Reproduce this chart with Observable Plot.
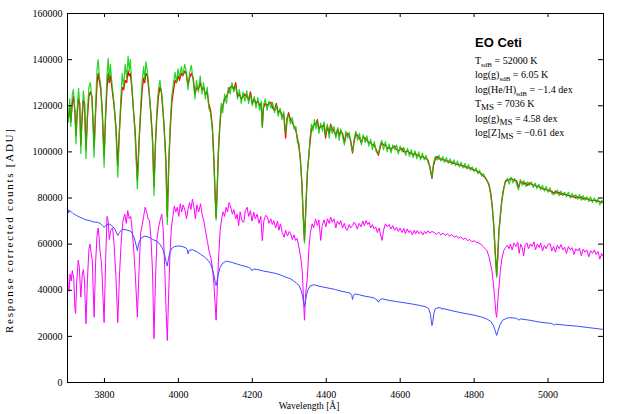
<!DOCTYPE html>
<html><head><meta charset="utf-8">
<script src="https://cdn.jsdelivr.net/npm/d3@7"></script>
<script src="https://cdn.jsdelivr.net/npm/@observablehq/plot@0.6"></script>
<style>html,body{margin:0;padding:0;background:#fff;} svg{display:block}</style>
</head><body><div id="chart"></div>
<script>
// Observed spectrum (red) and composite model fit (green), shared wavelength grid [Å]
const topWave = [3700,3703,3706,3709,3713,3716,3720,3723,3726,3730,3733,3736,3739,3743,3746,3750,3754,3758,3762,3766,3769,3772,3776,3780,3783,3786,3790,3794,3799,3803,3807,3810,3813,3816,3820,3826,3831,3836,3840,3844,3848,3852,3856,3860,3864,3867,3870,3874,3878,3883,3889,3894,3898,3902,3906,3909,3912,3916,3920,3925,3930,3934,3938,3942,3946,3950,3954,3957,3961,3966,3970,3974,3978,3982,3987,3991,3995,3999,4003,4008,4012,4017,4021,4026,4030,4035,4040,4045,4049,4054,4059,4064,4068,4073,4078,4082,4087,4092,4096,4099,4102,4105,4108,4112,4116,4120,4125,4130,4135,4140,4145,4150,4155,4160,4165,4170,4175,4180,4185,4190,4195,4200,4205,4210,4215,4220,4224,4227,4230,4235,4240,4245,4250,4255,4260,4265,4270,4275,4280,4285,4290,4294,4298,4303,4308,4313,4318,4322,4326,4330,4334,4337,4341,4345,4349,4353,4356,4360,4364,4368,4372,4376,4380,4385,4390,4394,4398,4403,4408,4412,4416,4421,4426,4431,4435,4439,4444,4449,4453,4458,4462,4466,4471,4475,4480,4485,4490,4495,4500,4505,4510,4515,4520,4525,4530,4535,4541,4546,4550,4555,4560,4565,4570,4575,4580,4585,4590,4595,4600,4605,4610,4615,4620,4625,4630,4635,4640,4645,4650,4655,4660,4665,4670,4675,4680,4686,4690,4695,4700,4705,4710,4715,4720,4725,4730,4735,4740,4745,4750,4755,4760,4765,4770,4775,4780,4785,4790,4795,4800,4805,4810,4815,4820,4825,4830,4835,4840,4845,4849,4853,4857,4861,4864,4867,4871,4875,4880,4885,4890,4895,4900,4905,4910,4915,4920,4925,4930,4935,4940,4945,4950,4955,4960,4965,4970,4975,4980,4985,4990,4995,5000,5005,5010,5015,5020,5025,5030,5035,5040,5045,5050,5055,5060,5065,5070,5075,5080,5085,5090,5095,5100,5105,5110,5115,5120,5125,5130,5135,5140,5145,5150];
const fitFlux = [119000,113000,123000,111000,125000,127000,117000,103500,118000,127500,120000,99300,115000,126500,121000,97100,118000,128000,130000,123000,112000,97700,120000,136000,140000,133000,129000,117000,93400,117000,134000,140500,131000,138000,130000,121000,109000,89000,107000,122000,134000,128000,138000,132000,141500,135000,140000,129000,119000,107000,84000,105000,120000,131000,137000,131000,139000,135000,128000,117000,104000,81000,104000,119000,127000,131000,126000,122000,111000,95000,68500,96000,112000,124000,130000,134500,130000,136000,132000,137000,133000,138000,135000,127000,134000,137500,131000,123000,131000,126000,133000,125000,130000,123000,128000,119000,117000,109000,96000,82000,70500,84000,100000,112000,121000,117000,125000,121000,128000,125000,130000,126000,129000,123000,127000,121000,126000,122000,126500,121000,125000,120000,124000,119000,123500,118000,122000,110500,120000,123000,118000,122000,119000,121500,117000,120500,115500,119000,114000,117500,108000,115000,116000,112000,115000,110000,111000,104000,104000,96000,86000,74000,60500,76000,92000,98000,106000,112000,109000,114000,110000,113500,108000,112500,109000,113000,107000,112000,106000,111500,108000,111000,106000,110500,105000,110000,107000,103000,109000,106000,108500,104000,100000,105000,109000,105000,108000,103000,107500,104000,107000,102500,105500,101000,104500,100000,99000,103000,105000,101000,104500,100000,103500,99500,103000,101000,103000,99000,102500,100000,102000,98500,101500,98000,101000,97500,100500,97000,100000,96500,99500,96500,98500,95500,94000,89000,95000,98000,96500,98500,96000,98000,95500,97500,95000,97000,94500,96500,94000,96000,93500,95500,93000,95000,92500,94500,92000,93500,91500,93000,90500,92000,89500,90500,88500,87500,85500,81500,76000,68000,56000,45700,54000,65000,72000,79000,84500,87000,88500,86000,89000,86500,88500,86000,83500,88000,85500,87500,85000,87000,85500,87000,84500,86500,84000,86000,83500,85500,83000,85000,82500,84500,82000,81500,82000,83500,81000,83000,81000,82500,80500,82500,80000,82000,80000,81500,79500,81500,79000,81000,79000,80500,78500,80500,78000,80000,78000,79500,77000,79000,77500];
const observedFlux = [117000,115000,120000,113000,121000,124000,118000,107000,116000,123000,121000,103000,113000,122000,121500,101000,115000,124000,126000,124000,114000,102000,117000,130000,134000,131000,127000,118000,98000,115000,128000,134000,130000,133000,128000,120000,111000,94000,108000,119000,128000,127000,131000,130000,135000,133000,134000,128000,119000,109000,88000,106000,117000,127000,132000,130000,134000,133000,127000,118000,106000,85000,104000,116000,124000,128000,126000,120000,112000,97000,72000,95000,110000,121000,127000,131000,130000,133000,131000,134000,133000,135000,134000,129000,132000,134000,132000,125000,128000,127000,130000,127000,128000,125000,126000,121000,118000,111000,97000,83000,71500,84000,99000,111000,119000,120000,123000,124000,126000,128000,128500,127000,130000,124000,125000,123000,124000,125000,124000,122500,126000,121000,123000,121000,122000,120000,121000,111000,119000,121000,120000,121000,121500,119000,118000,121000,117000,118000,116000,116000,106000,114000,117000,114000,113000,111000,109000,106000,102000,97000,87000,75000,61500,77000,91000,99000,104000,110000,111000,112000,112000,114000,110000,111000,111000,112000,106000,111000,108000,112000,110000,109000,107000,110000,107000,109000,108000,104000,107000,108000,107000,105000,99500,104000,108000,107000,106000,104000,106500,106000,105000,104000,104000,103000,103000,101000,98500,102000,104000,103000,103000,101500,102000,101000,102000,102500,101000,100500,101000,101500,100000,100000,100500,99500,99500,98500,99500,98500,98500,97500,98000,97500,97000,96500,93500,88500,94000,97000,98000,97000,97000,96500,96500,96000,96000,95500,95500,95000,95000,94500,94500,94000,94000,93500,93500,93000,93000,92500,92000,92000,91500,91000,90500,89500,89000,87500,86000,82000,76500,68500,57000,46500,55000,65500,72500,79000,84000,87500,87500,88000,88500,88000,87500,87500,84500,87000,87000,86000,86500,85500,86500,86000,85500,85500,85000,85000,84500,84000,84000,83500,83500,83000,83000,82000,83000,82000,82500,81500,82000,81500,81500,81000,81000,80500,81000,80000,80500,80000,80500,79500,80000,79500,79500,79000,79000,79000,79000,78500,78500,78000,78500];
// Main-sequence companion model (magenta)
const msWave = [3700,3702,3704,3707,3710,3713,3717,3720,3722,3725,3729,3732,3736,3740,3743,3746,3750,3754,3758,3761,3764,3767,3772,3776,3780,3783,3786,3788,3792,3799,3803,3807,3810,3813,3817,3822,3826,3831,3836,3841,3846,3850,3855,3859,3863,3867,3871,3875,3879,3884,3889,3894,3898,3902,3906,3910,3914,3918,3922,3926,3930,3934,3938,3942,3946,3950,3955,3959,3963,3967,3970,3973,3977,3981,3985,3989,3993,3997,4001,4005,4009,4013,4018,4022,4026,4030,4034,4038,4042,4046,4050,4055,4060,4064,4069,4073,4078,4083,4088,4092,4096,4099,4102,4105,4109,4113,4117,4121,4125,4129,4133,4137,4141,4146,4150,4155,4159,4163,4167,4172,4177,4181,4186,4190,4195,4199,4204,4208,4213,4218,4223,4227,4231,4236,4241,4245,4250,4254,4258,4263,4268,4272,4276,4281,4286,4290,4295,4300,4304,4308,4313,4317,4321,4326,4331,4335,4338,4341,4344,4349,4353,4357,4362,4366,4371,4376,4380,4385,4389,4394,4399,4403,4408,4412,4416,4421,4426,4430,4435,4439,4444,4449,4453,4457,4462,4466,4471,4475,4479,4484,4489,4494,4499,4503,4508,4512,4516,4520,4525,4529,4534,4538,4543,4547,4551,4555,4560,4565,4570,4575,4580,4585,4590,4595,4600,4605,4610,4614,4619,4624,4628,4633,4638,4642,4646,4651,4656,4661,4666,4670,4675,4680,4686,4692,4698,4704,4710,4716,4722,4728,4734,4740,4746,4752,4758,4764,4770,4776,4782,4788,4794,4800,4806,4812,4818,4824,4830,4835,4840,4845,4848,4852,4856,4859,4861,4864,4868,4871,4875,4880,4885,4890,4895,4898,4903,4908,4913,4918,4922,4926,4930,4934,4938,4943,4947,4952,4957,4962,4966,4971,4976,4980,4985,4990,4995,5000,5006,5010,5015,5020,5025,5030,5035,5040,5045,5050,5055,5060,5065,5070,5075,5080,5085,5090,5095,5100,5105,5110,5115,5120,5125,5130,5135,5140,5145,5150];
const msFlux = [48000,40000,39500,47000,44000,48500,45000,32000,30000,44000,53000,50000,37000,47000,49000,44000,25500,45000,58000,60000,56000,53000,28300,52000,64000,67000,62000,57000,52000,26000,52000,72000,70000,62000,66000,67000,60000,46000,26000,48000,63000,70000,73000,69000,74500,71000,72000,66000,58000,45000,28300,50000,65000,68000,72000,76000,74000,71000,70000,62000,48000,19000,45000,62000,67000,70000,73000,66000,50000,30000,18200,35000,55000,67000,72000,76500,74000,76000,72000,77500,74000,77000,74500,71000,75000,78000,75000,79500,76000,71000,77000,74000,77500,73000,70000,66000,61600,57000,54000,50000,43000,35000,27000,40000,55000,66000,71000,74000,72000,76000,74000,78000,76500,73000,75000,71000,73000,68000,74000,70000,69500,74500,76000,72000,74500,70000,73800,71000,73000,69000,72000,61500,70000,72500,71700,69000,71000,68500,70200,67000,70000,66000,68800,65000,63000,66000,63500,65500,64400,62000,64000,61600,62500,58700,54000,48600,38000,27000,38000,45700,58000,65000,68800,67000,70900,68000,70500,61600,68000,70500,67500,71000,69000,71700,69500,71000,67000,70000,68500,70200,67000,69000,66500,65900,68500,67000,68000,69500,68800,66500,69000,67500,70000,68000,70200,68500,69500,67000,68500,66600,67500,65000,67000,64000,61600,66000,68800,67500,68500,66500,68000,66000,67300,65500,67000,65000,66800,64500,66600,65000,66000,64000,66000,64500,65900,64500,65500,64000,65500,64500,65800,64800,65500,65000,64200,65200,64000,64800,63800,64400,63500,64200,63000,63600,62500,63200,62000,62600,61500,62000,61000,61500,60800,60500,60000,59000,58000,57200,54500,51000,48600,43000,36000,30000,28300,35000,43000,48600,53500,57200,58500,59500,58000,60100,57500,60500,59000,60800,56000,60000,58500,55000,59500,60500,58000,60100,59000,61000,57500,60000,58500,60500,57000,59500,58000,60000,60100,57000,59000,56500,59500,58000,59800,57500,58700,56000,59000,57500,58500,55500,58000,57000,58300,55000,57800,56500,57500,54500,57200,56000,57500,55500,56800,53500,56000,54300];
// Hot subdwarf (sdB) model (blue)
const sdbWave = [3700,3702,3703,3705,3712,3715,3721,3725,3734,3740,3750,3760,3771,3781,3790,3795,3799,3804,3812,3820,3828,3833,3836,3840,3848,3860,3872,3880,3885,3889,3893,3900,3910,3920,3930,3940,3950,3958,3964,3967,3970,3973,3977,3983,3990,4000,4010,4020,4024,4026,4029,4038,4050,4060,4070,4080,4087,4093,4097,4100,4102,4104,4108,4113,4120,4130,4140,4150,4160,4170,4180,4190,4195,4199,4203,4214,4230,4245,4260,4275,4290,4303,4312,4320,4326,4332,4336,4339,4341,4343,4346,4350,4356,4366,4380,4394,4410,4425,4440,4455,4465,4469,4471,4473,4477,4490,4505,4520,4530,4537,4541,4545,4551,4570,4590,4610,4630,4650,4668,4677,4682,4685,4686,4688,4691,4695,4705,4711,4713,4716,4740,4770,4800,4820,4835,4845,4852,4857,4861,4865,4870,4877,4890,4900,4915,4919,4922,4925,4950,4980,5010,5014,5017,5021,5050,5080,5110,5150];
const sdbFlux = [75300,74800,73500,74600,73800,73300,72700,72400,71600,71200,70500,70200,69600,69500,68800,68000,67300,68200,68800,68000,66500,64800,63700,65000,66400,66200,65500,63000,60000,57200,60500,62800,63500,63000,62000,61400,60000,57800,54500,52000,50500,53500,56500,58300,59000,59200,59000,58400,57500,55800,57300,57600,56700,55600,54500,53000,51500,48500,46000,43000,42000,43500,47000,50000,51800,52600,52300,51800,51300,50800,50400,49900,49500,48400,49200,49000,48300,47900,47400,46700,45700,45000,44000,43000,42200,40000,37500,34500,33000,34500,37500,40000,41800,42400,41800,41300,40800,40300,39600,39100,38700,37800,36000,37500,38400,38000,37400,37000,36600,35800,34800,35800,36300,35600,35100,34600,34100,33500,32900,32000,29500,25500,24700,26000,30000,32000,32500,32300,31700,32100,31100,30100,29200,28400,27500,26500,24800,22500,20400,22500,25000,27000,28000,28100,27800,27400,27000,27600,27000,26100,25600,25200,24900,25300,24800,24400,23800,23000];

const xTicks = [3800, 4000, 4200, 4400, 4600, 4800, 5000];
const yTicks = [0, 20000, 40000, 60000, 80000, 100000, 120000, 140000, 160000];
const xDomain = [3700, 5150];
const yDomain = [0, 160000];
const xLabel = "Wavelength [Å]";
const yLabel = "Response corrected counts [ADU]";
const titleText = "EO Ceti";
const paramBase = ["T", "log(g)", "log(He/H)", "T", "log(g)", "log[Z]"];
const paramSub = ["sdB", "sdB", "sdB", "MS", "MS", "MS"];
const paramValue = [" = 52000 K", " = 6.05 K", " = \u22121.4 dex", " = 7036 K", " = 4.58 dex", " = \u22120.61 dex"];

const W = 621, H = 414, mL = 67, mR = 18, mT = 13, mB = 32;
const fw = W - mL - mR, fh = H - mT - mB;
const rows = (w, f) => w.map((x, i) => ({x, y: f[i]}));
const serif = "Liberation Serif";

const plot = Plot.plot({
  width: W, height: H,
  marginLeft: mL, marginRight: mR, marginTop: mT, marginBottom: mB,
  style: {fontFamily: serif, fontSize: "10px", background: "#fff", color: "#000"},
  x: {domain: xDomain, label: null},
  y: {domain: yDomain, label: null},
  marks: [
    Plot.line(rows(topWave, observedFlux), {x: "x", y: "y", stroke: "#ff0000", strokeWidth: 1.3}),
    Plot.line(rows(topWave, fitFlux), {x: "x", y: "y", stroke: "#00cc00", strokeWidth: 1.2, strokeOpacity: 0.85}),
    Plot.line(rows(msWave, msFlux), {x: "x", y: "y", stroke: "#ff00ff", strokeWidth: 1}),
    Plot.line(rows(sdbWave, sdbFlux), {x: "x", y: "y", stroke: "#3c4cff", strokeWidth: 1}),
    Plot.tickX(xTicks, {x: d => d, insetTop: fh - 4, stroke: "#000"}),
    Plot.tickX(xTicks, {x: d => d, insetBottom: fh - 4, stroke: "#000"}),
    Plot.tickY(yTicks, {y: d => d, insetRight: fw - 5, stroke: "#000"}),
    Plot.tickY(yTicks, {y: d => d, insetLeft: fw - 5, stroke: "#000"}),
    Plot.frame({stroke: "#000"}),
    Plot.axisX(xTicks, {tickSize: 0, tickPadding: 8, tickFormat: d => String(d), label: null, fontFamily: serif, fontSize: 10}),
    Plot.axisY(yTicks, {tickSize: 0, tickPadding: 5, tickFormat: d => String(d), label: null, fontFamily: serif, fontSize: 10})
  ]
});
document.getElementById("chart").appendChild(plot);

const svg = d3.select(plot);
svg.append("text").attr("x", 309).attr("y", 409).attr("text-anchor", "middle")
  .attr("font-family", serif).attr("font-size", 9.5).text(xLabel);
svg.append("text").attr("transform", "translate(13,231) rotate(-90)").attr("text-anchor", "middle")
  .attr("font-family", serif).attr("font-size", 11)
  .attr("textLength", 204).attr("lengthAdjust", "spacing").text(yLabel);
svg.append("text").attr("x", 475).attr("y", 47).attr("text-anchor", "start")
  .attr("font-family", "Liberation Sans").attr("font-weight", "bold").attr("font-size", 13).text(titleText);
paramBase.forEach((b, i) => {
  const t = svg.append("text").attr("x", 475).attr("y", 64 + i * 14.4).attr("text-anchor", "start")
    .attr("font-family", serif).attr("font-size", 10);
  t.append("tspan").text(b);
  t.append("tspan").attr("dy", 3).attr("font-size", paramSub[i] === "MS" ? 9 : 7).text(paramSub[i]);
  t.append("tspan").attr("dy", -3).text(paramValue[i]);
});
</script></body></html>
